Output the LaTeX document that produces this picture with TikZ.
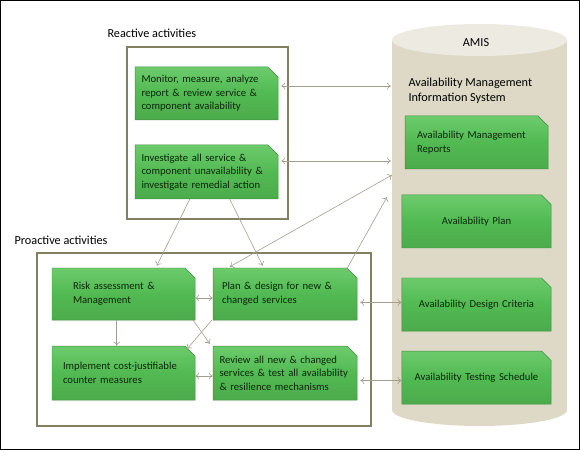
\documentclass[tikz,border=0pt]{standalone}
\usepackage{fontspec}
\setmainfont{Carlito}
\usepackage{tikz}
\usetikzlibrary{calc,arrows.meta,shapes.misc}
\definecolor{boxgreen}{HTML}{52BA52}
\definecolor{boxtop}{HTML}{6CCB6C}
\definecolor{boxedge}{HTML}{3F8F3F}
\definecolor{boxtext}{HTML}{0C260C}
\definecolor{linkgray}{HTML}{A29F8E}
\definecolor{framecol}{HTML}{857F62}
\definecolor{cylbody}{HTML}{DDD9C6}
\definecolor{cyltop}{HTML}{EDEBE1}

\begin{document}
\begin{tikzpicture}[x=1bp,y=-1bp,
  >={To[length=4bp,width=7bp]},
  gbox/.style={chamfered rectangle, chamfered rectangle corners=north east,
    chamfered rectangle xsep=5bp, chamfered rectangle ysep=5bp,
    draw=boxedge, line width=0.5pt, top color=boxtop, bottom color=boxgreen!92!black,
    middle color=boxgreen, minimum width=143bp, minimum height=53bp,
    inner sep=0pt, text width=#1, align=left, text=boxtext,
    font=\fontsize{10.7}{13.7}\selectfont},
  link/.style={draw=linkgray, line width=0.6pt},
  frame/.style={draw=framecol, line width=1.2pt},
  title/.style={anchor=west, font=\fontsize{12.3}{15}\selectfont}]
  \useasboundingbox (0,0) rectangle (580,450);
  \draw[line width=1.5pt] (0.75,0.75) rectangle (579.25,449.25);
  % the database
  \fill[cylbody] (392,40) rectangle (567,410);
  \fill[cylbody] (479.5,410) ellipse [x radius=87.5bp, y radius=16bp];
  \fill[cyltop] (479.5,40) ellipse [x radius=87.5bp, y radius=16bp];
  \node (amis) at (476,43) {\fontsize{12.3}{15}\selectfont AMIS};
  \node[title, align=left] (amisname) at (405,90.5) {Availability Management\\Information System};
  \node[gbox=119bp] (rep) at (476.5,142.5) {Availability Management\\Reports};
  \node[gbox=140bp, align=center] (aplan) at (476.5,221.5) {Availability Plan};
  \node[gbox=140bp, align=center] (crit) at (476.5,304.5) {Availability Design Criteria};
  \node[gbox=140bp, align=center] (test) at (476.5,377.5) {Availability Testing Schedule};
  % reactive activities
  \node[title] (reactive) at (104,33) {Reactive activities};
  \draw[frame] (127,47) rectangle (288,219);
  \node[gbox=130bp] (mon) at (206.5,93.5) {Monitor, measure, analyze\\report \& review service \&\\component availability};
  \node[gbox=130bp, minimum height=54bp] (inv) at (206.5,172) {Investigate all service \&\\component unavailability \&\\investigate remedial action};
  % proactive activities
  \node[title] (proactive) at (11,240) {Proactive activities};
  \draw[frame] (37,253) rectangle (371,426);
  \node[gbox=101bp, minimum height=52bp] (risk) at (123.5,294) {Risk assessment \&\\Management};
  \node[gbox=126bp, minimum height=52bp, minimum width=144bp] (plan) at (285,294) {Plan \& design for new \&\\changed services};
  \node[gbox=121bp, minimum height=54bp] (impl) at (123.5,373) {Implement cost-justifiable\\counter measures};
  \node[gbox=131bp, minimum height=54bp, minimum width=144bp] (rev) at (285,373) {Review all new \& changed\\services \& test all availability\\\& resilience mechanisms};
  % connectors
  \coordinate (c1) at (391,86);
  \coordinate (c2) at (391,161);
  \coordinate (c3) at (392,175);
  \coordinate (c4) at (387,197);
  \draw[link,<->] (mon.east |- c1) ++(3,0) -- (c1);
  \draw[link,<->] (inv.east |- c2) ++(3,0) -- (c2);
  \draw[link,<->] ($(plan.north west)+(17,-1)$) -- (c3);
  \draw[link,->] ($(plan.north east)+(-7,-1)$) -- (c4);
  \draw[link,->] ($(inv.south west)+(55,0)$) -- ($(risk.north west)+(105,-2)$);
  \draw[link,->] ($(inv.south west)+(95,0)$) -- ($(plan.north west)+(50,-2)$);
  \draw[link,<->] ($(risk.east)+(0,4)$) -- ($(plan.west)+(0,4)$);
  \draw[link,->] ($(risk.south west)+(65,0)$) -- ($(impl.north west)+(65,0)$);
  \draw[link,->] ($(risk.south east)+(-2,0)$) -- ($(rev.north west)+(-3,-2)$);
  \draw[link,->] ($(plan.south west)+(-1,0)$) -- ($(impl.north east)+(-3,-2)$);
  \draw[link,<->] ($(impl.east)+(0,3)$) -- ($(rev.west)+(0,3)$);
  \draw[link,<->] (plan.east |- crit.west) ++(3,-2) -- ($(crit.west)+(0,-2)$);
  \draw[link,<->] (rev.east |- test.west) ++(3,3) -- ($(test.west)+(0,3)$);
\end{tikzpicture}
\end{document}
